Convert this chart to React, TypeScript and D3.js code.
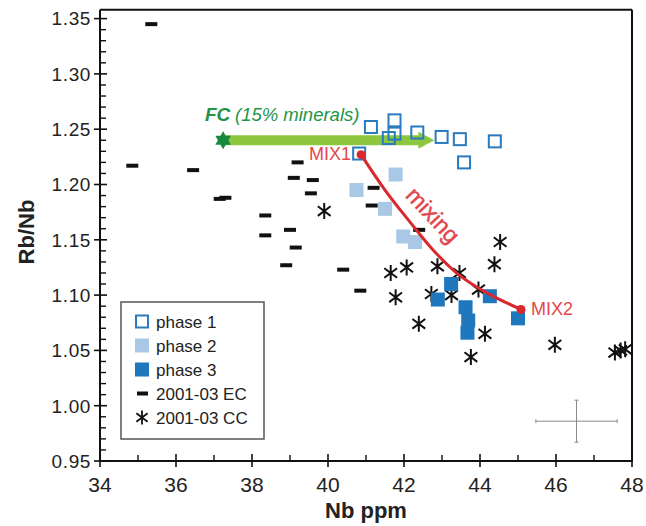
import React from "react";
import * as d3 from "d3";

// Nb ppm vs Rb/Nb
const ecNb = [35.35, 34.85, 36.45, 37.15, 37.3, 38.35, 38.35, 38.9, 39.0, 39.15, 39.1, 39.2, 39.6, 39.55, 40.4, 40.85, 41.2, 41.15, 42.4];
const ecRb = [1.345, 1.217, 1.213, 1.187, 1.188, 1.172, 1.154, 1.127, 1.159, 1.143, 1.206, 1.22, 1.204, 1.192, 1.123, 1.104, 1.197, 1.181, 1.159];

const ccNb = [44.53, 44.38, 41.65, 42.07, 42.88, 43.46, 41.78, 42.72, 43.25, 43.96, 42.39, 44.13, 43.76, 45.97, 47.55, 47.7, 47.82, 39.9];
const ccRb = [1.148, 1.128, 1.12, 1.125, 1.126, 1.12, 1.098, 1.101, 1.1, 1.105, 1.074, 1.065, 1.044, 1.055, 1.048, 1.05, 1.051, 1.176];

const phase1Nb = [41.13, 41.75, 41.75, 41.6, 42.35, 42.99, 43.47, 44.39, 43.58, 40.82];
const phase1Rb = [1.252, 1.258, 1.246, 1.242, 1.247, 1.243, 1.241, 1.239, 1.22, 1.228];

const phase2Nb = [41.78, 40.75, 41.5, 41.98, 42.29];
const phase2Rb = [1.209, 1.195, 1.178, 1.153, 1.148];

const phase3Nb = [43.24, 42.89, 43.62, 43.69, 43.67, 44.26, 45.0];
const phase3Rb = [1.11, 1.096, 1.089, 1.077, 1.066, 1.099, 1.079];

// mixing curve MIX1 -> MIX2
const mixNb = [40.87, 41.5, 42.16, 42.76, 43.42, 44.18, 45.08];
const mixRb = [1.227, 1.195, 1.166, 1.141, 1.119, 1.102, 1.087];

// fractional crystallisation vector
const fcStart = [37.24, 1.24];
const fcEnd = [42.8, 1.24];

// typical error
const errCenter = [46.54, 0.986];
const errHalf = [1.07, 0.019];

const xMajor = [34, 36, 38, 40, 42, 44, 46, 48];
const xMinor = [35, 37, 39, 41, 43, 45, 47];
const yMajor = [0.95, 1.0, 1.05, 1.1, 1.15, 1.2, 1.25, 1.3, 1.35];

const legendLabels = ["phase 1", "phase 2", "phase 3", "2001-03 EC", "2001-03 CC"];

const C1 = "#2a7abf";
const C2 = "#a8c8e5";
const C3 = "#1f77bd";
const RED = "#d9282e";
const LIGHTRED = "#e2474d";
const GREEN = "#1e9447";
const LIGHTGREEN = "#8dc63f";

const font = "'Liberation Sans', Arial, sans-serif";

function asterisk(r: number) {
  const a = r * 0.8;
  const b = r * 0.6;
  return `M0,${-r}L0,${r}M${-a},${-b}L${a},${b}M${-a},${b}L${a},${-b}`;
}

function star6(r: number) {
  const pts: [number, number][] = [];
  for (let i = 0; i < 12; i++) {
    const ang = (Math.PI / 6) * i - Math.PI / 2;
    const rr = i % 2 === 0 ? r : r * 0.58;
    pts.push([rr * Math.cos(ang), rr * Math.sin(ang)]);
  }
  return "M" + pts.map((p) => p.join(",")).join("L") + "Z";
}

export default function App() {
  const x = d3.scaleLinear().domain([34, 48]).range([100, 632]);
  const y = d3.scaleLinear().domain([0.95, 1.35]).range([461, 18.6]);
  const yTop = y(1.358);
  const yMinor = d3.range(96, 136).map((v) => v / 100).filter((v) => Math.round(v * 100) % 5 !== 0);

  const mixLine = d3
    .line<number>()
    .x((d, i) => x(mixNb[i]))
    .y((d, i) => y(mixRb[i]))
    .curve(d3.curveCatmullRom.alpha(0.5));

  const sq = 14;
  const ax = x(fcEnd[0]);
  const ay = y(fcEnd[1]);

  return (
    <svg width={646} height={526} style={{ position: "absolute", left: 0, top: 0, background: "#fff" }} fontFamily={font}>
      {/* frame */}
      <line x1={100} x2={632} y1={yTop} y2={yTop} stroke="#111" strokeWidth={2} />
      <line x1={632} x2={632} y1={yTop} y2={461} stroke="#111" strokeWidth={2} />
      <line x1={100} x2={100} y1={yTop} y2={462} stroke="#111" strokeWidth={2} />
      <line x1={99} x2={633} y1={461} y2={461} stroke="#111" strokeWidth={2} />

      {/* y axis */}
      {yMajor.map((v) => (
        <g key={"ym" + v}>
          <line x1={94} x2={107} y1={y(v)} y2={y(v)} stroke="#111" strokeWidth={1.6} />
          <text x={91} y={y(v)} dy="0.36em" textAnchor="end" fontSize={19} fill="#222" letterSpacing={0.6}>
            {d3.format(".2f")(v)}
          </text>
        </g>
      ))}
      {yMinor.map((v) => (
        <line key={"yn" + v} x1={100} x2={106} y1={y(v)} y2={y(v)} stroke="#111" strokeWidth={1.4} />
      ))}

      {/* x axis */}
      {xMajor.map((v) => (
        <g key={"xm" + v}>
          <line x1={x(v)} x2={x(v)} y1={454} y2={467} stroke="#111" strokeWidth={1.6} />
          <text x={x(v)} y={492} textAnchor="middle" fontSize={21} fill="#222">
            {v}
          </text>
        </g>
      ))}
      {xMinor.map((v) => (
        <line key={"xn" + v} x1={x(v)} x2={x(v)} y1={455} y2={461} stroke="#111" strokeWidth={1.4} />
      ))}

      <text x={366} y={518} textAnchor="middle" fontSize={22} fontWeight="bold" fill="#222">
        Nb ppm
      </text>
      <text transform="translate(34,232) rotate(-90)" textAnchor="middle" fontSize={22} fontWeight="bold" fill="#222">
        Rb/Nb
      </text>

      {/* error bars */}
      <g stroke="#8a8a8a" strokeWidth={1}>
        <line x1={x(errCenter[0] - errHalf[0])} x2={x(errCenter[0] + errHalf[0])} y1={y(errCenter[1])} y2={y(errCenter[1])} />
        <line x1={x(errCenter[0])} x2={x(errCenter[0])} y1={y(errCenter[1] - errHalf[1])} y2={y(errCenter[1] + errHalf[1])} />
        <line x1={x(errCenter[0] - errHalf[0])} x2={x(errCenter[0] - errHalf[0])} y1={y(errCenter[1]) - 2} y2={y(errCenter[1]) + 2} />
        <line x1={x(errCenter[0] + errHalf[0])} x2={x(errCenter[0] + errHalf[0])} y1={y(errCenter[1]) - 2} y2={y(errCenter[1]) + 2} />
        <line x1={x(errCenter[0]) - 2} x2={x(errCenter[0]) + 2} y1={y(errCenter[1] - errHalf[1])} y2={y(errCenter[1] - errHalf[1])} />
        <line x1={x(errCenter[0]) - 2} x2={x(errCenter[0]) + 2} y1={y(errCenter[1] + errHalf[1])} y2={y(errCenter[1] + errHalf[1])} />
      </g>

      {/* EC dashes */}
      {ecNb.map((v, i) => (
        <rect key={"ec" + i} x={x(v) - 6} y={y(ecRb[i]) - 2} width={12} height={4} fill="#111" />
      ))}

      {/* CC asterisks */}
      {ccNb.map((v, i) => (
        <path key={"cc" + i} d={asterisk(8)} transform={`translate(${x(v)},${y(ccRb[i])})`} stroke="#111" strokeWidth={2} fill="none" />
      ))}

      {/* FC arrow */}
      <line x1={x(fcStart[0])} x2={ax - 14} y1={y(fcStart[1])} y2={ay} stroke={LIGHTGREEN} strokeWidth={10} />
      <path d={`M${ax - 16},${ay - 8.5}L${ax},${ay}L${ax - 16},${ay + 8.5}Z`} fill={LIGHTGREEN} />
      <path d={star6(9)} transform={`translate(${x(fcStart[0])},${y(fcStart[1])})`} fill="#17883c" />
      <text x={205} y={121} fontSize={19} fontWeight="bold" fontStyle="italic" fill={GREEN}>
        FC
      </text>
      <text x={235} y={121} fontSize={18.5} fontStyle="italic" fill={GREEN}>
        (15% minerals)
      </text>

      {/* phase 2 */}
      {phase2Nb.map((v, i) => (
        <rect key={"p2" + i} x={x(v) - sq / 2} y={y(phase2Rb[i]) - sq / 2} width={sq} height={sq} fill={C2} />
      ))}
      {/* phase 3 */}
      {phase3Nb.map((v, i) => (
        <rect key={"p3" + i} x={x(v) - sq / 2} y={y(phase3Rb[i]) - sq / 2} width={sq} height={sq} fill={C3} />
      ))}
      {/* phase 1 */}
      {phase1Nb.map((v, i) => (
        <rect key={"p1" + i} x={x(v) - sq / 2 + 1} y={y(phase1Rb[i]) - sq / 2 + 1} width={sq - 2} height={sq - 2} fill="none" stroke={C1} strokeWidth={2} />
      ))}

      {/* mixing */}
      <path d={mixLine(mixNb) || ""} fill="none" stroke={RED} strokeWidth={3} />
      <circle cx={x(mixNb[0])} cy={y(mixRb[0])} r={4.5} fill={RED} />
      <circle cx={x(mixNb[mixNb.length - 1])} cy={y(mixRb[mixRb.length - 1])} r={4.5} fill={RED} />
      <text x={x(mixNb[0]) - 10} y={y(mixRb[0]) + 5} textAnchor="end" fontSize={18} fill={LIGHTRED}>
        MIX1
      </text>
      <text x={x(mixNb[mixNb.length - 1]) + 10} y={y(mixRb[mixRb.length - 1]) + 6} fontSize={18} fill={LIGHTRED}>
        MIX2
      </text>
      <text transform="translate(433,215) rotate(47)" textAnchor="middle" dy="0.35em" fontSize={23} fill={LIGHTRED} stroke={LIGHTRED} strokeWidth={0.5}>
        mixing
      </text>

      {/* legend */}
      <rect x={121} y={302} width={143} height={137} fill="#fff" stroke="#555" strokeWidth={1.5} />
      {legendLabels.map((lab, i) => {
        const cy = 321.5 + i * 24;
        const cx = 142;
        let mark;
        if (i === 0) mark = <rect x={cx - 6} y={cy - 6} width={12} height={12} fill="none" stroke={C1} strokeWidth={2} />;
        else if (i === 1) mark = <rect x={cx - 7} y={cy - 7} width={14} height={14} fill={C2} />;
        else if (i === 2) mark = <rect x={cx - 7} y={cy - 7} width={14} height={14} fill={C3} />;
        else if (i === 3) mark = <rect x={cx - 5} y={cy - 2} width={11} height={4} fill="#111" />;
        else mark = <path d={asterisk(7)} transform={`translate(${cx},${cy})`} stroke="#111" strokeWidth={1.8} fill="none" />;
        return (
          <g key={lab}>
            {mark}
            <text x={156} y={cy} dy="0.36em" fontSize={17} fill="#222">
              {lab}
            </text>
          </g>
        );
      })}
    </svg>
  );
}
